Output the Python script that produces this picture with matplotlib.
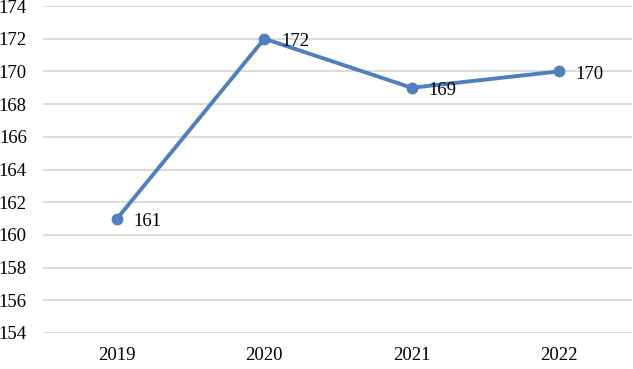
import matplotlib
matplotlib.use("Agg")
import matplotlib.pyplot as plt

years = ["2019", "2020", "2021", "2022"]
values = [161, 172, 169, 170]
y_ticks = list(range(154, 176, 2))

plt.rcParams["font.family"] = ["Liberation Serif", "DejaVu Serif"]

fig = plt.figure(figsize=(6.33, 3.69), dpi=100)
ax = fig.add_axes([0.0687, 0.0976, 0.9305, 0.8861])

x = list(range(len(years)))
ax.plot(x, values, color="#4F7FBF", linewidth=2.8, marker="o", markersize=7.5, zorder=3)

for xi, v in zip(x, values):
    ax.annotate(str(v), (xi, v), xytext=(12, -2), textcoords="offset points",
                ha="left", va="center", fontsize=13.5, color="black")

ax.set_xlim(-0.5, len(years) - 0.5)
ax.set_ylim(154, 174)
ax.set_xticks(x)
ax.set_xticklabels(years)
ax.set_yticks(y_ticks)
ax.tick_params(axis="both", length=0, labelsize=13.5, colors="black")
ax.tick_params(axis="x", pad=10)
ax.tick_params(axis="y", pad=12)
ax.grid(axis="y", color="#D9D9D9", linewidth=1.3)
ax.set_axisbelow(True)
for s in ax.spines.values():
    s.set_visible(False)

fig.savefig("out.png", dpi=100)
